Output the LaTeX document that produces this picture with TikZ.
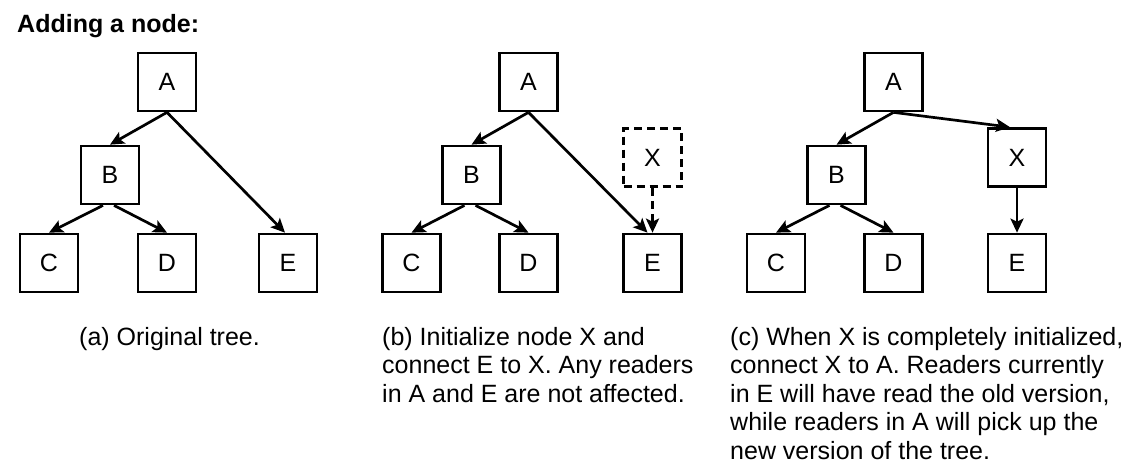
\documentclass[tikz,border=0pt]{standalone}
\usepackage{fontspec}
\setmainfont{Liberation Sans}
\usetikzlibrary{arrows.meta,positioning}

\begin{document}
\begin{tikzpicture}[x=1pt,y=-1pt,>={Stealth[length=14pt,width=13pt,inset=3pt]},
every node/.style = {font=\fontsize{25}{28.5}\selectfont},
treebox/.style = {draw=black, line width=2.7pt, minimum size=58pt, inner sep=0pt},
newbox/.style = {treebox, dash pattern=on 8pt off 5pt},
link/.style = {->, line width=2.7pt},
caption/.style = {align=left, anchor=base west, inner sep=0pt}]
\useasboundingbox (0,0) rectangle (1131,469);
\node[anchor=base west, inner sep=0pt, font=\bfseries\fontsize{25}{30}\selectfont] (title) at (17,32) {Adding a node:};
% (a) original tree
\node[treebox] (a1) at (167,82) {A};
\node[treebox] (b1) at (110,175) {B};
\node[treebox] (c1) at (49,263) {C};
\node[treebox] (d1) at (167,263) {D};
\node[treebox] (e1) at (288,263) {E};
\draw[link] (a1.south) -- (b1.north);
\draw[link] (a1.south) -- ([xshift=-3pt]e1.north);
\draw[link] ([xshift=-7pt]b1.south) -- (c1.north);
\draw[link] ([xshift=4pt]b1.south) -- (d1.north);
% (b) X initialized
\node[treebox] (a2) at (528.5,82) {A};
\node[treebox] (b2) at (471.5,175) {B};
\node[treebox] (c2) at (411.5,263) {C};
\node[treebox] (d2) at (528.5,263) {D};
\node[treebox] (e2) at (652.5,263) {E};
\node[newbox] (x2) at (652.5,157.5) {X};
\draw[link] (a2.south) -- (b2.north);
\draw[link] (a2.south) -- ([xshift=-5pt]e2.north);
\draw[link] ([xshift=-7pt]b2.south) -- (c2.north);
\draw[link] ([xshift=4pt]b2.south) -- (d2.north);
\draw[link, dash pattern=on 8pt off 5pt] (x2.south) -- (e2.north);
% (c) X linked in
\node[treebox] (a3) at (893.5,82) {A};
\node[treebox] (b3) at (836.5,175) {B};
\node[treebox] (c3) at (776,263) {C};
\node[treebox] (d3) at (893.5,263) {D};
\node[treebox] (x3) at (1017,157.5) {X};
\node[treebox] (e3) at (1017,263) {E};
\draw[link] (a3.south) -- (b3.north);
\draw[link] (a3.south) -- ([xshift=-7pt]x3.north);
\draw[link] ([xshift=-7pt]b3.south) -- (c3.north);
\draw[link] ([xshift=4pt]b3.south) -- (d3.north);
\draw[link] (x3.south) -- (e3.north);
% captions, placed by the baseline of their last line
\node[caption] (capa) at (79,345) {(a) Original tree.};
\node[caption] (capb) at (382,402) {(b) Initialize node X and\\connect E to X. Any readers\\in A and E are not affected.};
\node[caption] (capc) at (730,459) {(c) When X is completely initialized,\\connect X to A. Readers currently\\in E will have read the old version,\\while readers in A will pick up the\\new version of the tree.};
\end{tikzpicture}
\end{document}
